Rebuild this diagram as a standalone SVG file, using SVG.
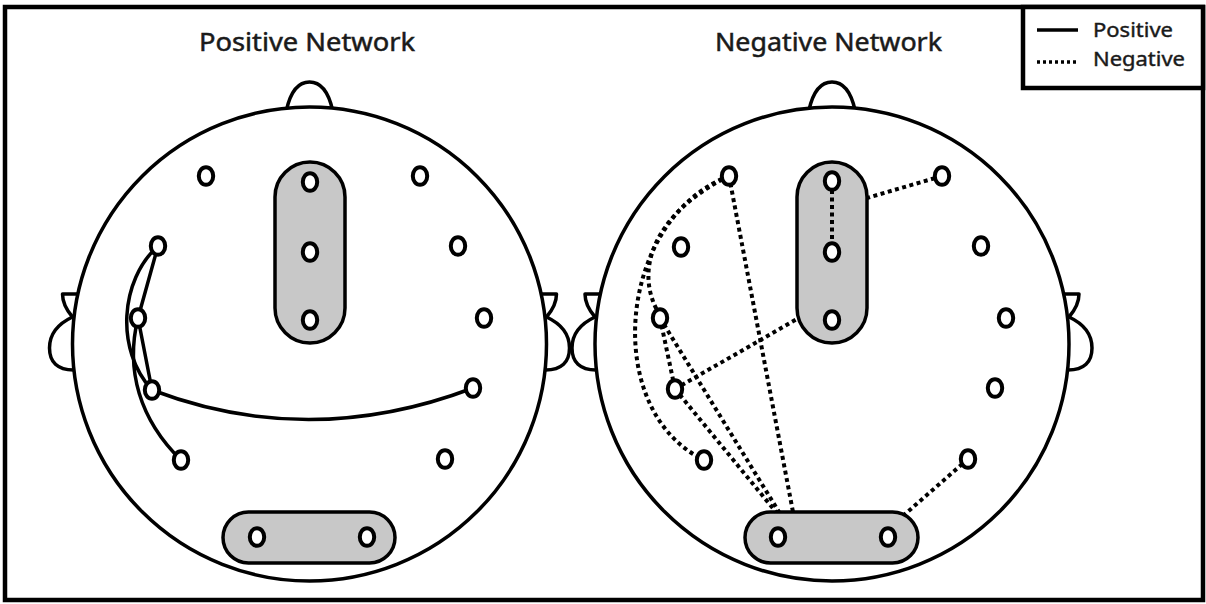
<svg xmlns="http://www.w3.org/2000/svg" xmlns:xlink="http://www.w3.org/1999/xlink" width="1206" height="604" viewBox="0 0 1206 604">
  <style>
    .frame { fill: #fff; stroke: #000; stroke-width: 4.5; }
    .head { fill: #fff; stroke: #000; stroke-width: 3.5; }
    .part { fill: #fff; stroke: #000; stroke-width: 3.5; stroke-linejoin: round; }
    .pill { fill: #c8c8c8; stroke: #000; stroke-width: 3.5; }
    .el { fill: #fff; stroke: #000; stroke-width: 4; }
    .pos { fill: none; stroke: #000; stroke-width: 3.5; stroke-linecap: round; }
    .neg { fill: none; stroke: #000; stroke-width: 4; stroke-dasharray: 4 3.5; }
    .title { font-family: "Noto Sans", "Open Sans", sans-serif; font-size: 25px; fill: #1a1a1a; stroke: #1a1a1a; stroke-width: 0.5; }
    .key { font-family: "Noto Sans", "Open Sans", sans-serif; font-size: 19px; fill: #1a1a1a; stroke: #1a1a1a; stroke-width: 0.4; }
  </style>
  <defs>
    <ellipse id="e" cx="0" cy="0" rx="7.2" ry="8.8"/>
    <!-- head outline with nose and ears, centred on x=0 -->
    <g id="headShape">
      <path class="part" d="M -23 110 C -19 92 -11 82 0 82 C 11 82 19 92 23 110 Z"/>
      <path class="part" d="M -232 294 H -247 C -247 302 -243 310 -237 317 C -252 324 -260 335 -260 348 C -260 362 -252 370 -236 370"/>
      <path class="part" d="M 232 294 H 247 C 247 302 243 310 237 317 C 252 324 260 335 260 348 C 260 362 252 370 236 370"/>
      <circle class="head" cx="0" cy="344" r="237"/>
    </g>
  </defs>

  <!-- outer frame -->
  <rect class="frame" x="5" y="7" width="1198" height="593"/>

  <!-- titles -->
  <text class="title" x="307" y="51" text-anchor="middle" textLength="216" lengthAdjust="spacingAndGlyphs">Positive Network</text>
  <text class="title" x="828.5" y="51" text-anchor="middle" textLength="227" lengthAdjust="spacingAndGlyphs">Negative Network</text>

  <!-- legend -->
  <g id="legend">
    <rect class="frame" x="1023" y="7" width="180" height="81"/>
    <line x1="1037" y1="30" x2="1078" y2="30" stroke="#000" stroke-width="3.5"/>
    <line x1="1037" y1="62" x2="1078" y2="62" stroke="#000" stroke-width="3.5" stroke-dasharray="3 3"/>
    <text class="key" x="1093" y="37" textLength="80" lengthAdjust="spacingAndGlyphs">Positive</text>
    <text class="key" x="1093" y="66" textLength="92" lengthAdjust="spacingAndGlyphs">Negative</text>
  </g>

  <!-- left head: positive network -->
  <g id="head-positive">
    <use xlink:href="#headShape" href="#headShape" transform="translate(309.5 0)"/>
    <rect id="pos-frontal-midline" class="pill" x="275" y="162" width="70" height="181" rx="35" ry="35"/>
    <rect id="pos-occipital" class="pill" x="223" y="512" width="172" height="51" rx="25.5" ry="25.5"/>
  </g>

  <!-- right head: negative network -->
  <g id="head-negative">
    <use xlink:href="#headShape" href="#headShape" transform="translate(832 0)"/>
    <rect id="neg-frontal-midline" class="pill" x="797" y="162" width="70" height="181" rx="35" ry="35"/>
    <rect id="neg-occipital" class="pill" x="745" y="512" width="173" height="51" rx="25.5" ry="25.5"/>
  </g>

  <!-- connectors -->
  <g id="connectors">
    <!-- positive (solid) -->
    <line class="pos" x1="158" y1="246" x2="138" y2="318"/>
    <path class="pos" d="M 158 246 C 120 280 115 350 152 390"/>
    <line class="pos" x1="138" y1="318" x2="152" y2="390"/>
    <path class="pos" d="M 138 318 C 125 370 140 420 181 460"/>
    <path class="pos" d="M 152 390 Q 310 450 473 388"/>
    <!-- negative (dotted) -->
    <line class="neg" x1="832" y1="190" x2="832" y2="244"/>
    <line class="neg" x1="942" y1="176" x2="867" y2="198"/>
    <line class="neg" x1="675" y1="389" x2="797" y2="319"/>
    <path class="neg" d="M 729 176 C 660 210 632 265 658 312"/>
    <path class="neg" d="M 729 176 C 618 218 600 410 704 460"/>
    <line class="neg" x1="660" y1="318" x2="675" y2="389"/>
    <line class="neg" x1="660" y1="318" x2="779" y2="512"/>
    <line class="neg" x1="675" y1="389" x2="776" y2="512"/>
    <line class="neg" x1="729" y1="176" x2="793" y2="512"/>
    <line class="neg" x1="968" y1="459" x2="904" y2="515"/>
  </g>

  <!-- electrodes, positive head -->
  <g id="pos-electrodes" class="el">
    <g id="p-fp1"><use href="#e" x="206" y="176"/></g>
    <g id="p-fz"><use href="#e" x="310" y="182"/></g>
    <g id="p-fp2"><use href="#e" x="420" y="176"/></g>
    <g id="p-f7"><use href="#e" x="158" y="246"/></g>
    <g id="p-cz"><use href="#e" x="310" y="252"/></g>
    <g id="p-f8"><use href="#e" x="458" y="246"/></g>
    <g id="p-t3"><use href="#e" x="138" y="318"/></g>
    <g id="p-pz"><use href="#e" x="310" y="320"/></g>
    <g id="p-t4"><use href="#e" x="484" y="318"/></g>
    <g id="p-c3"><use href="#e" x="152" y="390"/></g>
    <g id="p-c4"><use href="#e" x="473" y="388"/></g>
    <g id="p-p3"><use href="#e" x="181" y="460"/></g>
    <g id="p-p4"><use href="#e" x="445" y="459"/></g>
    <g id="p-o1"><use href="#e" x="257" y="537"/></g>
    <g id="p-o2"><use href="#e" x="367" y="537"/></g>
  </g>

  <!-- electrodes, negative head -->
  <g id="neg-electrodes" class="el">
    <g id="n-fp1"><use href="#e" x="729" y="176"/></g>
    <g id="n-fz"><use href="#e" x="832" y="181"/></g>
    <g id="n-fp2"><use href="#e" x="942" y="176"/></g>
    <g id="n-f7"><use href="#e" x="681" y="247"/></g>
    <g id="n-cz"><use href="#e" x="832" y="252"/></g>
    <g id="n-f8"><use href="#e" x="981" y="246"/></g>
    <g id="n-t3"><use href="#e" x="660" y="318"/></g>
    <g id="n-pz"><use href="#e" x="832" y="320"/></g>
    <g id="n-t4"><use href="#e" x="1006" y="318"/></g>
    <g id="n-c3"><use href="#e" x="675" y="389"/></g>
    <g id="n-c4"><use href="#e" x="995" y="388"/></g>
    <g id="n-p3"><use href="#e" x="704" y="460"/></g>
    <g id="n-p4"><use href="#e" x="968" y="459"/></g>
    <g id="n-o1"><use href="#e" x="778" y="537"/></g>
    <g id="n-o2"><use href="#e" x="888" y="537"/></g>
  </g>
</svg>
